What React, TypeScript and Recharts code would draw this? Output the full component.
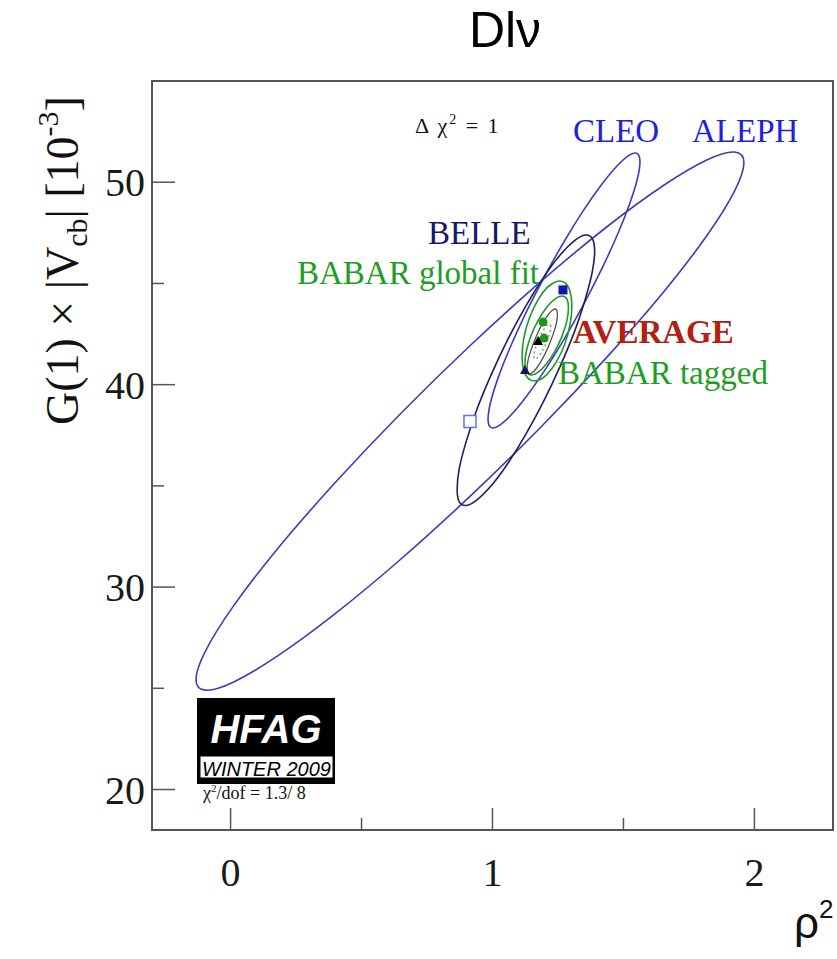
import React from 'react';
import { ComposedChart, Line, Scatter, XAxis, YAxis, ReferenceArea } from 'recharts';

const X_TICKS = [0, 0.5, 1, 1.5, 2];
const Y_TICKS = [20, 25, 30, 35, 40, 45, 50];
const X_RANGE = [-0.3, 2.3];
const Y_RANGE = [18, 55];

// Δχ² = 1 contours (x = ρ², y = G(1)|Vcb| in 10^-3)
const ALEPH_RHO2 = [1.960, 1.924, 1.820, 1.654, 1.437, 1.185, 0.914, 0.643, 0.391, 0.174, 0.008, -0.096, -0.132, -0.096, 0.008, 0.174, 0.391, 0.643, 0.914, 1.185, 1.437, 1.654, 1.820, 1.924];
const ALEPH_G = [50.96, 51.49, 51.11, 49.85, 47.80, 45.10, 41.92, 38.49, 35.04, 31.81, 29.01, 26.84, 25.44, 24.91, 25.29, 26.55, 28.60, 31.30, 34.48, 37.91, 41.36, 44.59, 47.39, 49.56];

const CLEO_RHO2 = [1.563, 1.553, 1.524, 1.478, 1.418, 1.348, 1.273, 1.198, 1.128, 1.068, 1.022, 0.993, 0.983, 0.993, 1.022, 1.068, 1.128, 1.198, 1.273, 1.348, 1.418, 1.478, 1.524, 1.553];
const CLEO_G = [51.00, 51.41, 51.35, 50.84, 49.91, 48.62, 47.06, 45.33, 43.56, 41.86, 40.36, 39.14, 38.30, 37.89, 37.95, 38.46, 39.39, 40.68, 42.24, 43.97, 45.74, 47.44, 48.95, 50.16];

const BELLE_RHO2 = [1.390, 1.381, 1.354, 1.313, 1.258, 1.195, 1.127, 1.059, 0.996, 0.941, 0.900, 0.873, 0.865, 0.873, 0.900, 0.941, 0.996, 1.059, 1.127, 1.195, 1.258, 1.313, 1.354, 1.381];
const BELLE_G = [46.59, 47.21, 47.39, 47.11, 46.40, 45.30, 43.88, 42.25, 40.52, 38.80, 37.21, 35.85, 34.83, 34.21, 34.03, 34.31, 35.02, 36.12, 37.54, 39.17, 40.90, 42.62, 44.22, 45.57];

const BABAR_GLOBAL_RHO2 = [1.303, 1.296, 1.276, 1.245, 1.208, 1.172, 1.141, 1.120, 1.113, 1.120, 1.141, 1.172, 1.208, 1.245, 1.276, 1.296];
const BABAR_GLOBAL_G = [43.89, 44.61, 45.04, 45.10, 44.79, 44.15, 43.29, 42.33, 41.42, 40.69, 40.26, 40.20, 40.51, 41.15, 42.01, 42.97];

const BABAR_TAGGED_RHO2 = [1.290, 1.284, 1.266, 1.239, 1.207, 1.175, 1.148, 1.130, 1.124, 1.130, 1.148, 1.175, 1.207, 1.239, 1.266, 1.284];
const BABAR_TAGGED_G = [43.80, 44.23, 44.38, 44.24, 43.82, 43.19, 42.45, 41.70, 41.06, 40.64, 40.48, 40.62, 41.04, 41.67, 42.41, 43.16];

const AVERAGE_RHO2 = [1.248, 1.244, 1.231, 1.212, 1.190, 1.168, 1.149, 1.136, 1.132, 1.136, 1.149, 1.168, 1.190, 1.212, 1.231, 1.244];
const AVERAGE_G = [43.48, 43.71, 43.70, 43.45, 43.00, 42.42, 41.79, 41.22, 40.78, 40.55, 40.56, 40.81, 41.26, 41.84, 42.47, 43.04];

const AVERAGE_CORE_RHO2 = [1.222, 1.213, 1.190, 1.167, 1.158, 1.167, 1.190, 1.213];
const AVERAGE_CORE_G = [42.87, 42.99, 42.61, 41.94, 41.39, 41.27, 41.65, 42.32];

// central values
const MARKER_NAMES = ['CLEO', 'ALEPH', 'BELLE', 'BABAR global fit', 'BABAR tagged', 'AVERAGE'];
const MARKER_RHO2 = [1.269, 0.914, 1.124, 1.193, 1.197, 1.174];
const MARKER_G = [44.68, 38.18, 40.72, 43.09, 42.30, 42.16];

const SERIF = '"Liberation Serif", "DejaVu Serif", serif';
const SANS = '"Liberation Sans", Arial, sans-serif';
const AXIS = '#555';
const BLUE = '#3d3db8';
const NAVY = '#1f1f5e';
const GREEN = '#1f9a2a';
const GRAY = '#505050';

const toPoints = (xs: number[], ys: number[]) => xs.map((x, i) => ({ x, y: ys[i] }));

// closed Catmull-Rom, so each contour is a smooth loop
function closedCurve(context: any) {
  let pts: number[][] = [];
  return {
    areaStart() {},
    areaEnd() {},
    lineStart() {
      pts = [];
    },
    point(x: number, y: number) {
      pts.push([+x, +y]);
    },
    lineEnd() {
      const n = pts.length;
      if (n < 3) return;
      context.moveTo(pts[0][0], pts[0][1]);
      for (let i = 0; i < n; i++) {
        const p0 = pts[(i + n - 1) % n];
        const p1 = pts[i];
        const p2 = pts[(i + 1) % n];
        const p3 = pts[(i + 2) % n];
        context.bezierCurveTo(
          p1[0] + (p2[0] - p0[0]) / 6,
          p1[1] + (p2[1] - p0[1]) / 6,
          p2[0] - (p3[0] - p1[0]) / 6,
          p2[1] - (p3[1] - p1[1]) / 6,
          p2[0],
          p2[1]
        );
      }
      context.closePath();
    },
  };
}

const CONTOURS = [
  { key: 'ALEPH', data: toPoints(ALEPH_RHO2, ALEPH_G), stroke: BLUE, width: 1.6 },
  { key: 'CLEO', data: toPoints(CLEO_RHO2, CLEO_G), stroke: BLUE, width: 1.6 },
  { key: 'BELLE', data: toPoints(BELLE_RHO2, BELLE_G), stroke: NAVY, width: 1.6 },
  { key: 'BABAR global fit', data: toPoints(BABAR_GLOBAL_RHO2, BABAR_GLOBAL_G), stroke: GREEN, width: 1.6 },
  { key: 'BABAR tagged', data: toPoints(BABAR_TAGGED_RHO2, BABAR_TAGGED_G), stroke: GREEN, width: 1.6 },
  { key: 'AVERAGE', data: toPoints(AVERAGE_RHO2, AVERAGE_G), stroke: GRAY, width: 1.3 },
];

function XTick({ x, y, payload }: any) {
  const major = Number.isInteger(payload.value);
  return (
    <g>
      <line x1={x} x2={x} y1={y} y2={y - (major ? 22 : 12)} stroke={AXIS} strokeWidth={1.5} />
      {major && (
        <text x={x} y={y + 56} textAnchor="middle" fontFamily={SERIF} fontSize={40} fill="#1a1a1a">
          {payload.value}
        </text>
      )}
    </g>
  );
}

function YTick({ x, y, payload }: any) {
  const major = payload.value % 10 === 0;
  return (
    <g>
      <line x1={x} x2={x + (major ? 23 : 12)} y1={y} y2={y} stroke={AXIS} strokeWidth={1.5} />
      {major && (
        <text x={x - 7} y={y + 14} textAnchor="end" fontFamily={SERIF} fontSize={40} fill="#1a1a1a">
          {payload.value}
        </text>
      )}
    </g>
  );
}

function markerShape(name: string) {
  return (props: any) => {
    const { cx, cy } = props;
    if (name === 'CLEO') return <rect x={cx - 4.5} y={cy - 4.5} width={9} height={9} fill="#1414b0" />;
    if (name === 'ALEPH')
      return <rect x={cx - 6} y={cy - 6} width={12} height={12} fill="#fff" stroke="#6a6af2" strokeWidth={1.5} />;
    if (name === 'BELLE')
      return <path d={`M${cx},${cy - 5}L${cx + 5},${cy + 4}L${cx - 5},${cy + 4}Z`} fill="#14145e" />;
    if (name === 'AVERAGE')
      return <path d={`M${cx},${cy - 5}L${cx + 5},${cy + 4}L${cx - 5},${cy + 4}Z`} fill="#000" />;
    return <circle cx={cx} cy={cy} r={4.5} fill="#1a9a1a" />;
  };
}

export default function App() {
  return (
    <div style={{ position: 'absolute', left: 0, top: 0, width: 837, height: 959, background: '#fff' }}>
      <ComposedChart width={837} height={959} margin={{ top: 81, right: 4, bottom: 0, left: 0 }}>
        {/* frame around the plot area */}
        <ReferenceArea
          x1={X_RANGE[0]}
          x2={X_RANGE[1]}
          y1={Y_RANGE[0]}
          y2={Y_RANGE[1]}
          fill="none"
          stroke={AXIS}
          strokeWidth={2}
        />
        <XAxis
          type="number"
          dataKey="x"
          domain={X_RANGE}
          ticks={X_TICKS}
          interval={0}
          height={129}
          tickSize={0}
          tickMargin={0}
          tickLine={false}
          tick={<XTick />}
          axisLine={{ stroke: AXIS, strokeWidth: 2 }}
          allowDataOverflow
        />
        <YAxis
          type="number"
          dataKey="y"
          domain={Y_RANGE}
          ticks={Y_TICKS}
          interval={0}
          width={152}
          tickSize={0}
          tickMargin={0}
          tickLine={false}
          tick={<YTick />}
          axisLine={{ stroke: AXIS, strokeWidth: 2 }}
          allowDataOverflow
        />
        {CONTOURS.map((c) => (
          <Line
            key={c.key}
            name={c.key}
            data={c.data}
            dataKey="y"
            type={closedCurve as any}
            stroke={c.stroke}
            strokeWidth={c.width}
            dot={false}
            activeDot={false}
            isAnimationActive={false}
          />
        ))}
        <Line
          data={toPoints(AVERAGE_CORE_RHO2, AVERAGE_CORE_G)}
          dataKey="y"
          type={closedCurve as any}
          stroke="#9a9a9a"
          strokeWidth={1.6}
          strokeDasharray="2 3"
          dot={false}
          activeDot={false}
          isAnimationActive={false}
        />
        {MARKER_NAMES.map((name, i) => (
          <Scatter
            key={name}
            name={name}
            data={[{ x: MARKER_RHO2[i], y: MARKER_G[i] }]}
            shape={markerShape(name)}
            isAnimationActive={false}
          />
        ))}
      </ComposedChart>
      <svg
        width={837}
        height={959}
        style={{ position: 'absolute', left: 0, top: 0, pointerEvents: 'none' }}
      >
        <text x={505} y={47} textAnchor="middle" fontFamily={SANS} fontSize={50} fill="#000">
          Dlν
        </text>
        <text transform="translate(78,425) rotate(-90)" fontFamily={SERIF} fontSize={46} fill="#111">
          G(1) × |V<tspan fontSize={30} dy={9}>cb</tspan>
          <tspan dy={-9}>| [10</tspan>
          <tspan fontSize={30} dy={-20}>-3</tspan>
          <tspan dy={20}>]</tspan>
        </text>
        <text x={794} y={938} fontFamily={SANS} fontSize={44} fill="#111">
          ρ<tspan fontSize={26} dy={-20}>2</tspan>
        </text>

        <text x={415} y={133} fontFamily={SERIF} fontSize={22} fill="#111" letterSpacing={2}>
          Δ χ<tspan fontSize={14} dy={-9}>2</tspan>
          <tspan dy={9}> = 1</tspan>
        </text>
        <text x={573} y={142} fontFamily={SERIF} fontSize={33} fill="#1f1fe0">CLEO</text>
        <text x={692} y={142} fontFamily={SERIF} fontSize={33} fill="#1f1fe0">ALEPH</text>
        <text x={428} y={244} fontFamily={SERIF} fontSize={33} fill="#16166e">BELLE</text>
        <text x={297} y={284} fontFamily={SERIF} fontSize={33} fill="#1e9e1e">BABAR global fit</text>
        <text x={573} y={343} fontFamily={SERIF} fontSize={33} fontWeight="bold" fill="#b3200f">AVERAGE</text>
        <text x={558} y={384} fontFamily={SERIF} fontSize={33} fill="#1e9e1e">BABAR tagged</text>

        <rect x={197} y={698} width={138} height={86} fill="#000" />
        <text x={266} y={743} textAnchor="middle" fontFamily={SANS} fontSize={40} fontWeight="bold" fontStyle="italic" fill="#fff">
          HFAG
        </text>
        <rect x={200} y={756} width={133} height={22} fill="#fff" stroke="#000" strokeWidth={1} />
        <text x={202} y={776} fontFamily={SANS} fontSize={20} fontStyle="italic" fill="#000" textLength={129} lengthAdjust="spacingAndGlyphs">
          WINTER 2009
        </text>
        <text x={203} y={799} fontFamily={SERIF} fontSize={18} fill="#111">
          χ<tspan fontSize={11} dy={-7}>2</tspan>
          <tspan dy={7}>/dof = 1.3/ 8</tspan>
        </text>
      </svg>
    </div>
  );
}
